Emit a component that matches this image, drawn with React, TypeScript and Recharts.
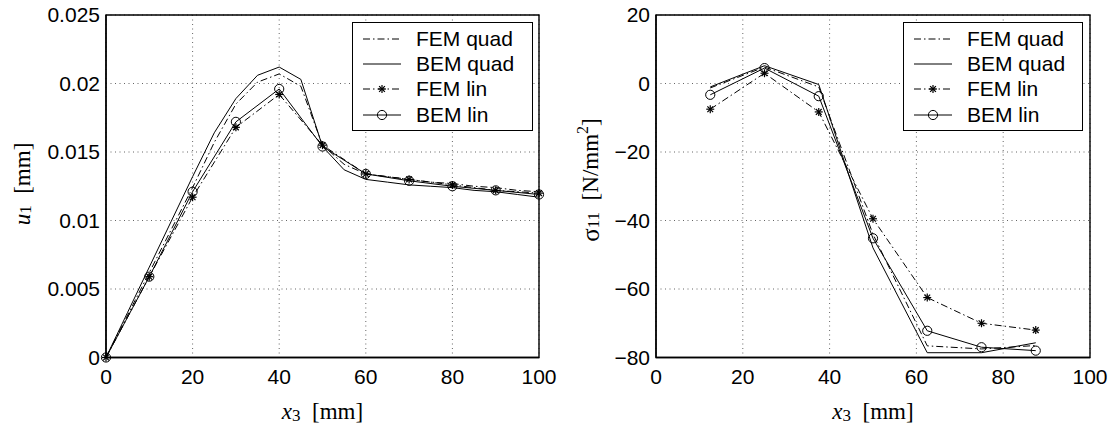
import React from "react";
import { LineChart, Line, XAxis, YAxis, CartesianGrid, ReferenceArea, Legend, Label } from "recharts";

// ---------- Left panel: u1 [mm] vs x3 [mm] ----------
const leftQuadX = [0, 5, 10, 15, 20, 25, 30, 35, 40, 45, 50, 55, 60, 65, 70, 75, 80, 85, 90, 95, 100];
const leftFemQuad = [0, 0.0031, 0.0062, 0.0093, 0.0124, 0.0157, 0.0185, 0.0201, 0.0207, 0.0198, 0.0155, 0.0141, 0.0134, 0.0132, 0.013, 0.0128, 0.0127, 0.0125, 0.0124, 0.0122, 0.0121];
const leftBemQuad = [0, 0.0033, 0.0066, 0.0099, 0.0132, 0.0164, 0.0189, 0.0206, 0.0212, 0.0203, 0.0154, 0.0137, 0.013, 0.0128, 0.0126, 0.0125, 0.0124, 0.0122, 0.0121, 0.0119, 0.0117];
const leftLinX = [0, 10, 20, 30, 40, 50, 60, 70, 80, 90, 100];
const leftFemLin = [0, 0.0059, 0.0117, 0.0168, 0.0192, 0.0155, 0.0134, 0.013, 0.0126, 0.0122, 0.012];
const leftBemLin = [0, 0.0059, 0.0121, 0.0172, 0.0196, 0.0154, 0.0134, 0.0129, 0.0125, 0.0122, 0.0119];
const leftXTicks = [0, 20, 40, 60, 80, 100];
const leftYTicks = [0, 0.005, 0.01, 0.015, 0.02, 0.025];

// ---------- Right panel: sigma11 [N/mm^2] vs x3 [mm] ----------
const rightX = [12.5, 25, 37.5, 50, 62.5, 75, 87.5];
const rightFemQuad = [-1.3, 4.8, -1.0, -44, -76.6, -77.5, -76.5];
const rightBemQuad = [-1.0, 5.2, -0.3, -48, -78.6, -78.6, -75.7];
const rightFemLin = [-7.5, 3.0, -8.3, -39.5, -62.5, -70, -72];
const rightBemLin = [-3.3, 4.5, -3.7, -45.2, -72.2, -77, -78];
const rightXTicks = [0, 20, 40, 60, 80, 100];
const rightYTicks = [-80, -60, -40, -20, 0, 20];

const seriesNames = ["FEM quad", "BEM quad", "FEM lin", "BEM lin"];

const zip = (xs: number[], ys: number[]) => xs.map((x, i) => ({ x, y: ys[i] }));

const DASHDOT = "7 3 1.5 3";
const SANS = "'Liberation Sans', Arial, sans-serif";
const SERIF = "'Liberation Serif', 'Times New Roman', serif";
const FS = 21;

const renderStar = (p: any) => {
  const { cx, cy, index } = p;
  if (cx == null || cy == null) return <g key={`s-${index}`} />;
  const r = 4;
  const d = r * 0.72;
  return (
    <g key={`s-${index}`} stroke="#000" strokeWidth={1.2}>
      <line x1={cx - r} y1={cy} x2={cx + r} y2={cy} />
      <line x1={cx} y1={cy - r} x2={cx} y2={cy + r} />
      <line x1={cx - d} y1={cy - d} x2={cx + d} y2={cy + d} />
      <line x1={cx - d} y1={cy + d} x2={cx + d} y2={cy - d} />
    </g>
  );
};

const renderCircle = (p: any) => {
  const { cx, cy, index } = p;
  if (cx == null || cy == null) return <g key={`c-${index}`} />;
  return <circle key={`c-${index}`} cx={cx} cy={cy} r={4.6} fill="none" stroke="#000" strokeWidth={1} />;
};

const LegendBox = ({ width }: { width: number }) => (
  <div
    style={{
      width,
      height: 109,
      border: "1.6px solid #000",
      background: "#fff",
      boxSizing: "border-box",
      paddingTop: 3,
    }}
  >
    {seriesNames.map((name, i) => (
      <div key={name} style={{ display: "flex", alignItems: "center", height: 25.3 }}>
        <svg width={58} height={20} style={{ flex: "none" }}>
          <line
            x1={10}
            y1={10}
            x2={48}
            y2={10}
            stroke="#000"
            strokeWidth={1}
            strokeDasharray={i === 0 || i === 2 ? DASHDOT : undefined}
          />
          {i === 2 && renderStar({ cx: 29, cy: 10, index: 0 })}
          {i === 3 && renderCircle({ cx: 29, cy: 10, index: 0 })}
        </svg>
        <span
          style={{
            fontFamily: SANS,
            fontSize: FS,
            lineHeight: "20px",
            marginLeft: 5,
            color: "#000",
            whiteSpace: "nowrap",
          }}
        >
          {name}
        </span>
      </div>
    ))}
  </div>
);

const XLabel = (props: any) => {
  const vb = props.viewBox || {};
  const cx = vb.x + vb.width / 2;
  const y = 419;
  return (
    <text x={cx} y={y} textAnchor="middle" fontFamily={SERIF} fontSize={23} fill="#000">
      <tspan fontStyle="italic">x</tspan>
      <tspan fontSize={17} dy={2}>3</tspan>
      <tspan dy={-2}>{"\u2002[mm]"}</tspan>
    </text>
  );
};

const tickStyle = { fontSize: FS, fill: "#000", fontFamily: SANS };
const fmtLeft = (v: number) => (v === 0 ? "0" : String(v));
const fmtRight = (v: number) => (v < 0 ? "\u2212" + Math.abs(v) : String(v));

export default function App() {
  return (
    <div style={{ position: "absolute", left: 0, top: 0, width: 1115, height: 427, background: "#fff" }}>
      {/* Left chart */}
      <div style={{ position: "absolute", left: 0, top: 0 }}>
        <LineChart width={560} height={427} margin={{ top: 15, right: 21, bottom: 39.5, left: 46 }}>
          <CartesianGrid stroke="#666" strokeDasharray="1 3.5" strokeWidth={1} />
          <XAxis
            dataKey="x"
            type="number"
            domain={[0, 100]}
            ticks={leftXTicks}
            allowDuplicatedCategory={false}
            tick={tickStyle}
            tickLine={false}
            tickSize={8}
            tickMargin={4}
            height={30}
            axisLine={{ stroke: "#000", strokeWidth: 1.4 }}
          >
            <Label content={<XLabel />} />
          </XAxis>
          <YAxis
            type="number"
            domain={[0, 0.025]}
            ticks={leftYTicks}
            tickFormatter={fmtLeft}
            tick={tickStyle}
            tickLine={false}
            tickSize={3}
            tickMargin={3}
            width={60}
            axisLine={{ stroke: "#000", strokeWidth: 1.4 }}
          >
            <Label
              content={() => (
                <text
                  x={22}
                  y={184}
                  transform="rotate(-90, 22, 184)"
                  textAnchor="middle"
                  dominantBaseline="central"
                  fontFamily={SERIF}
                  fontSize={23}
                  fill="#000"
                >
                  <tspan fontStyle="italic">u</tspan>
                  <tspan fontSize={17} dy={3}>1</tspan>
                  <tspan dy={-3}>{"\u2002[mm]"}</tspan>
                </text>
              )}
            />
          </YAxis>
          <ReferenceArea x1={0} x2={100} y1={0} y2={0.025} fill="none" stroke="#000" strokeWidth={1.4} />
          <Line data={zip(leftQuadX, leftFemQuad)} dataKey="y" stroke="#000" strokeWidth={1} strokeDasharray={DASHDOT} dot={false} activeDot={false} isAnimationActive={false} />
          <Line data={zip(leftQuadX, leftBemQuad)} dataKey="y" stroke="#000" strokeWidth={1} dot={false} activeDot={false} isAnimationActive={false} />
          <Line data={zip(leftLinX, leftFemLin)} dataKey="y" stroke="#000" strokeWidth={1} strokeDasharray={DASHDOT} dot={renderStar} activeDot={false} isAnimationActive={false} />
          <Line data={zip(leftLinX, leftBemLin)} dataKey="y" stroke="#000" strokeWidth={1} dot={renderCircle} activeDot={false} isAnimationActive={false} />
          <Legend
            layout="horizontal"
            verticalAlign="middle"
            align="center"
            content={() => <LegendBox width={181} />}
            wrapperStyle={{ position: "absolute", left: 352, top: 22, width: 181, height: 109 }}
          />
        </LineChart>
      </div>

      {/* Right chart */}
      <div style={{ position: "absolute", left: 560, top: 0 }}>
        <LineChart width={555} height={427} margin={{ top: 15, right: 25, bottom: 39.5, left: 36 }}>
          <CartesianGrid stroke="#666" strokeDasharray="1 3.5" strokeWidth={1} />
          <XAxis
            dataKey="x"
            type="number"
            domain={[0, 100]}
            ticks={rightXTicks}
            allowDuplicatedCategory={false}
            tick={tickStyle}
            tickLine={false}
            tickSize={8}
            tickMargin={4}
            height={30}
            axisLine={{ stroke: "#000", strokeWidth: 1.4 }}
          >
            <Label content={<XLabel />} />
          </XAxis>
          <YAxis
            type="number"
            domain={[-80, 20]}
            ticks={rightYTicks}
            tickFormatter={fmtRight}
            tick={tickStyle}
            tickLine={false}
            tickSize={3}
            tickMargin={3}
            width={60}
            axisLine={{ stroke: "#000", strokeWidth: 1.4 }}
          >
            <Label
              content={() => (
                <text
                  x={30}
                  y={180}
                  transform="rotate(-90, 30, 180)"
                  textAnchor="middle"
                  dominantBaseline="central"
                  fontFamily={SERIF}
                  fontSize={23}
                  fill="#000"
                >
                  <tspan fontSize={25}>{"\u03C3"}</tspan>
                  <tspan fontSize={17} dy={3}>11</tspan>
                  <tspan dy={-3}>{"\u2002[N/mm"}</tspan>
                  <tspan fontSize={16} dy={-8}>2</tspan>
                  <tspan dy={8}>]</tspan>
                </text>
              )}
            />
          </YAxis>
          <ReferenceArea x1={0} x2={100} y1={-80} y2={20} fill="none" stroke="#000" strokeWidth={1.4} />
          <Line data={zip(rightX, rightFemQuad)} dataKey="y" stroke="#000" strokeWidth={1} strokeDasharray={DASHDOT} dot={false} activeDot={false} isAnimationActive={false} />
          <Line data={zip(rightX, rightBemQuad)} dataKey="y" stroke="#000" strokeWidth={1} dot={false} activeDot={false} isAnimationActive={false} />
          <Line data={zip(rightX, rightFemLin)} dataKey="y" stroke="#000" strokeWidth={1} strokeDasharray={DASHDOT} dot={renderStar} activeDot={false} isAnimationActive={false} />
          <Line data={zip(rightX, rightBemLin)} dataKey="y" stroke="#000" strokeWidth={1} dot={renderCircle} activeDot={false} isAnimationActive={false} />
          <Legend
            layout="horizontal"
            verticalAlign="middle"
            align="center"
            content={() => <LegendBox width={180} />}
            wrapperStyle={{ position: "absolute", left: 343, top: 22, width: 180, height: 109 }}
          />
        </LineChart>
      </div>
    </div>
  );
}
